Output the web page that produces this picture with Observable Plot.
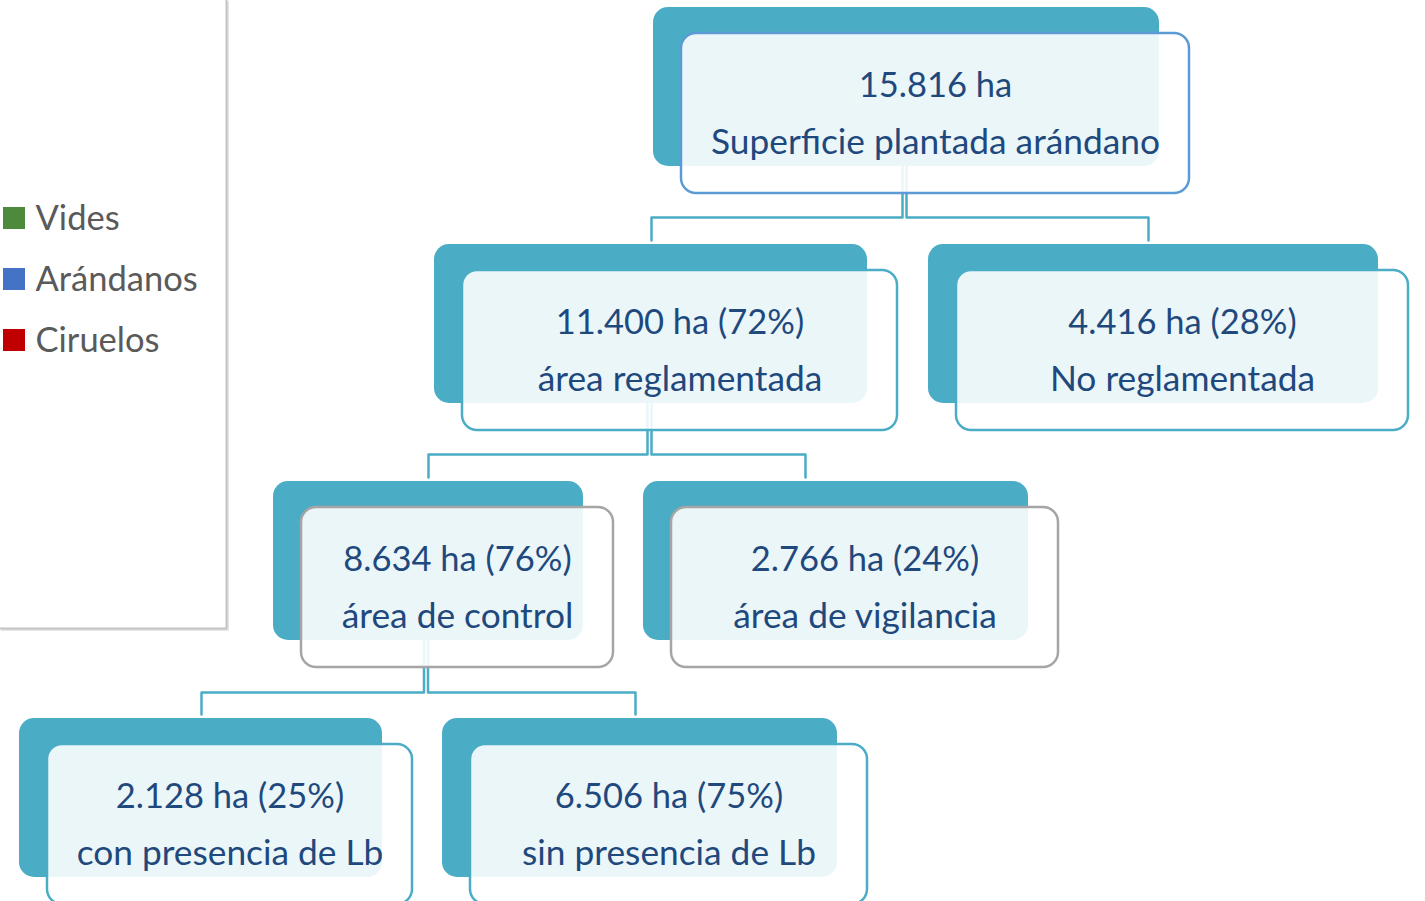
<!DOCTYPE html>
<html>
<head>
<meta charset="utf-8">
<script src="https://cdn.jsdelivr.net/npm/d3@7"></script>
<script src="https://cdn.jsdelivr.net/npm/@observablehq/plot@0.6"></script>
<style>
  html, body { margin: 0; padding: 0; background: #fff; }
  #chart svg { display: block; }
</style>
</head>
<body>
<div id="chart"></div>
<script>
// ---- data ----
const ids     = ["root", "reg", "noreg", "control", "vig", "con", "sin"];
const parents = [null, "root", "root", "reg", "reg", "control", "control"];
const areas   = [15816, 11400, 4416, 8634, 2766, 2128, 6506];   // ha
const shares  = [null, 72, 28, 76, 24, 25, 75];                 // %
const names   = ["Superficie plantada arándano", "área reglamentada", "No reglamentada",
                 "área de control", "área de vigilancia", "con presencia de Lb", "sin presencia de Lb"];

const legendLabels = ["Vides", "Arándanos", "Ciruelos"];
const legendColors = ["#4e8a3c", "#4472c4", "#c00000"];

// ---- layout (pixel canvas coordinates) ----
const levels  = [0, 1, 1, 2, 2, 3, 3];
const boxX1   = [653, 434, 928, 273, 643, 19, 442];
const boxX2   = [1159, 867, 1378, 583, 1028, 382, 837];
const boxY1   = [7, 244, 244, 481, 481, 718, 718];
const boxH    = 159;
const dropX   = [null, 651, 1148, 428, 805, 201, 635];   // where each link enters its child
const busY    = {root: 217, reg: 454, control: 692};
const stemX   = {root: 904, reg: 649, control: 425.5};
const outlineColors = ["#5b9bd5", "#4bacc6", "#a5a5a5", "#4bacc6"];
const legendY = [218, 279, 340];

const teal = "#4bacc6";
const textColor = "#1f497d";

const loc = d3.formatLocale({decimal: ",", thousands: ".", grouping: [3], currency: ["", ""]});
const fmt = loc.format(",d");

const nodes = ids.map((id, i) => ({
  id, parent: parents[i], area: areas[i], share: shares[i], name: names[i], level: levels[i],
  x1: boxX1[i], x2: boxX2[i], y1: boxY1[i], y2: boxY1[i] + boxH,
  fx1: boxX1[i] + 28, fx2: boxX2[i] + 30, fy1: boxY1[i] + 26, fy2: boxY1[i] + boxH + 27,
  cx: (boxX1[i] + boxX2[i]) / 2 + 29,
  line1: fmt(areas[i]) + " ha" + (shares[i] == null ? "" : ` (${shares[i]}%)`),
  line2: names[i],
  stroke: outlineColors[levels[i]]
}));
const byId = new Map(nodes.map(d => [d.id, d]));

// links: parent stem -> bus -> child drop (each branch its own thin line, giving the double stem)
const links = [];
nodes.forEach((d, i) => {
  if (!d.parent) return;
  const p = byId.get(d.parent);
  const sx = stemX[d.parent] + (dropX[i] < stemX[d.parent] ? -2 : 2);
  const by = busY[d.parent];
  links.push({k: d.id, x: sx, y: p.y2});
  links.push({k: d.id, x: sx, y: by});
  links.push({k: d.id, x: dropX[i], y: by});
  links.push({k: d.id, x: dropX[i], y: d.y1 - 4});
});

const legend = legendLabels.map((l, i) => ({label: l, color: legendColors[i], y: legendY[i]}));
const panel = [{x: 226, y: 0}, {x: 226, y: 628}, {x: 0, y: 628}];

const font = "Lato, 'Open Sans', sans-serif";

const chart = Plot.plot({
  width: 1425,
  height: 901,
  margin: 0,
  style: {background: "#fff", overflow: "visible"},
  x: {domain: [0, 1425], axis: null},
  y: {domain: [0, 901], reverse: true, axis: null},
  marks: [
    // legend panel border
    Plot.line(panel, {x: d => d.x + 1.5, y: d => d.y + 1.5, stroke: "#e4e4e4", strokeWidth: 2}),
    Plot.line(panel, {x: "x", y: "y", stroke: "#c3c3c3", strokeWidth: 2}),
    Plot.rect(legend, {x1: 3, x2: 25, y1: d => d.y - 11, y2: d => d.y + 11, fill: "color"}),
    Plot.text(legend, {x: 35, y: "y", text: "label", textAnchor: "start", fill: "#5a5a5a",
      fontSize: 34.5, fontFamily: font}),
    // back teal boxes
    Plot.rect(nodes, {x1: "x1", x2: "x2", y1: "y1", y2: "y2", fill: teal, rx: 15}),
    // connectors
    Plot.line(links, {x: "x", y: "y", z: "k", stroke: teal, strokeWidth: 2.5, curve: "linear"}),
    // front translucent boxes
    Plot.rect(nodes, {x1: "fx1", x2: "fx2", y1: "fy1", y2: "fy2", fill: "#fff", fillOpacity: 0.89,
      stroke: "stroke", strokeWidth: 2.5, rx: 15}),
    // labels
    Plot.text(nodes, {x: "cx", y: d => d.y1 + 78, text: "line1", fill: textColor, fontSize: 34.5, fontFamily: font}),
    Plot.text(nodes, {x: "cx", y: d => d.y1 + 135, text: "line2", fill: textColor, fontSize: 35.3, fontFamily: font})
  ]
});
document.getElementById("chart").append(chart);
</script>
</body>
</html>
